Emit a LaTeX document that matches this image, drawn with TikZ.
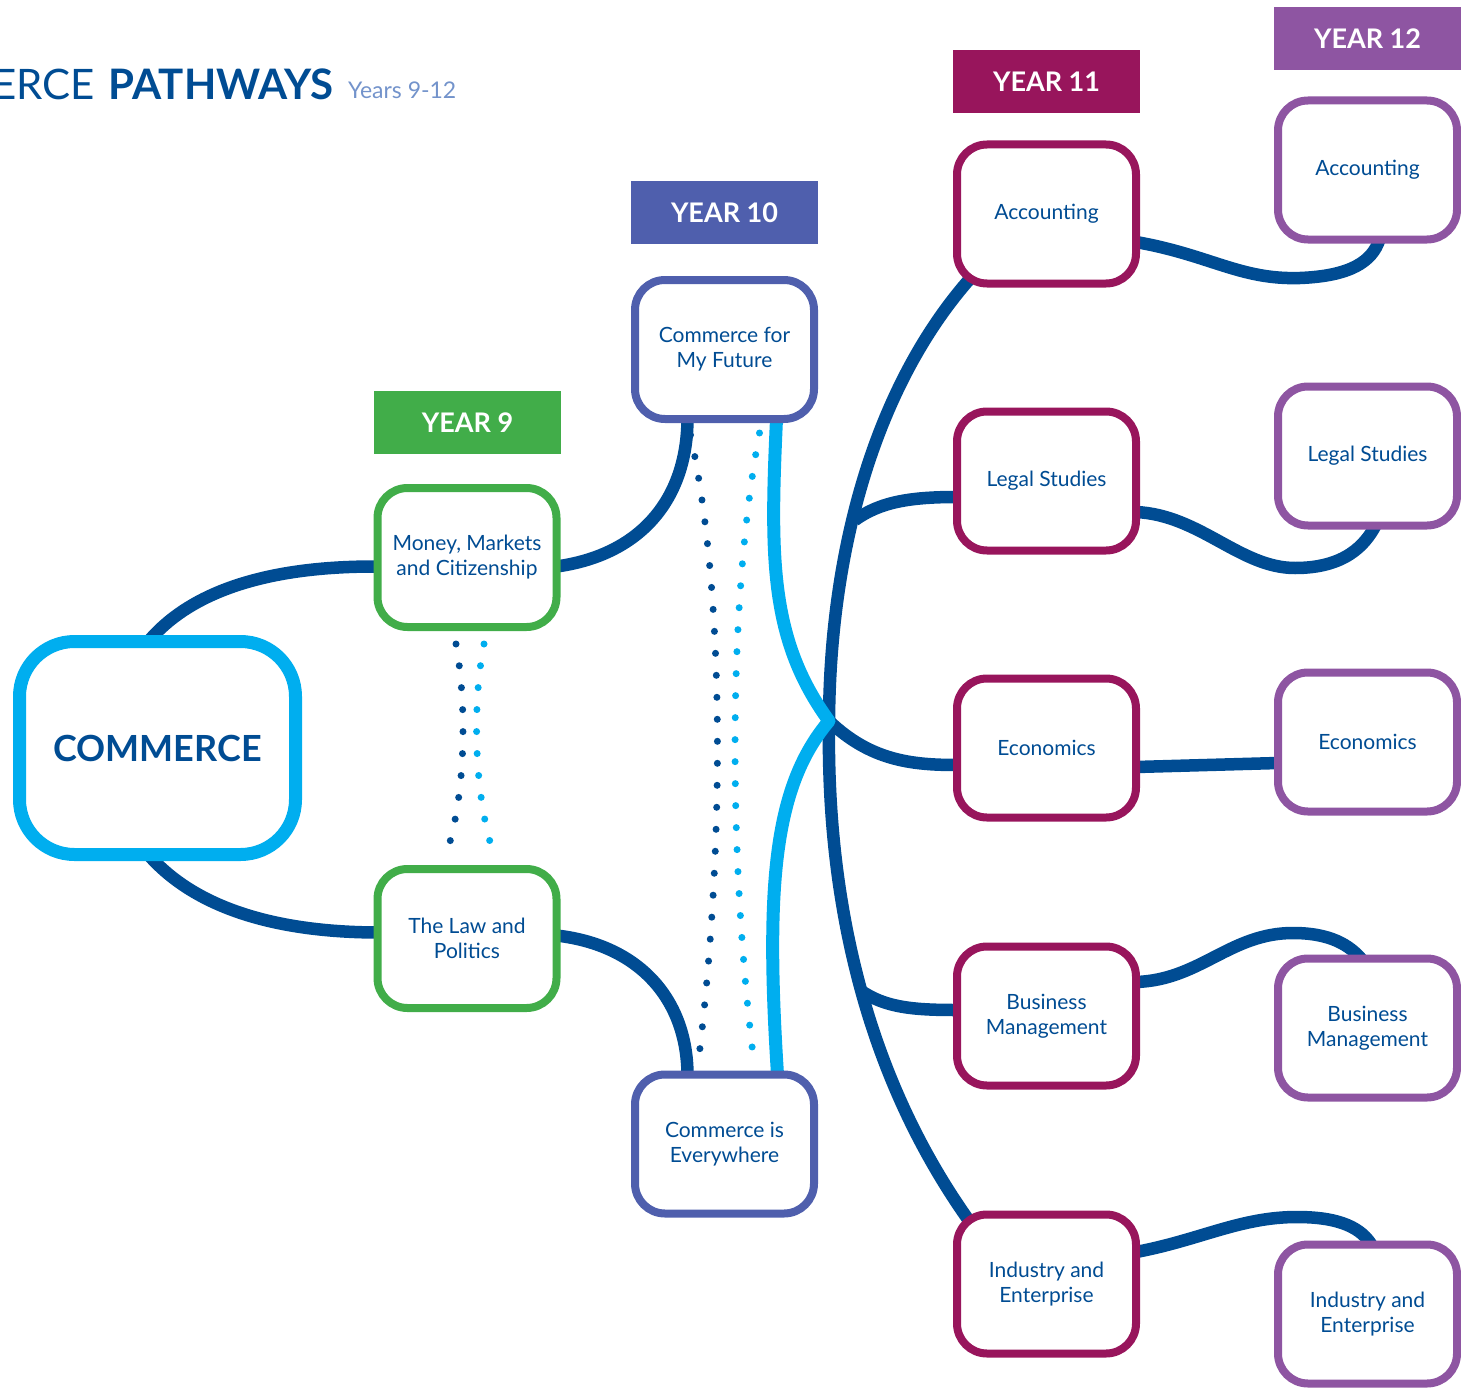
\documentclass[tikz,border=0pt]{standalone}
\usepackage{fontspec}
\setmainfont{Lato}
\usetikzlibrary{calc,backgrounds}
\definecolor{navy}{HTML}{004C93}
\definecolor{sky}{HTML}{00AEEF}
\definecolor{grn}{HTML}{41AD49}
\definecolor{slate}{HTML}{4F5FAD}
\definecolor{plum}{HTML}{98155C}
\definecolor{lilac}{HTML}{8E55A2}
\definecolor{ttl}{HTML}{7393CB}

\begin{document}
\begin{tikzpicture}[x=1pt, y=-1pt,
  coursebox/.style={draw, fill=white, line width=8pt, rounded corners=30pt, minimum width=179pt, minimum height=139pt, inner sep=0pt, align=center, text=navy, font=\fontsize{21}{25}\selectfont},
  yearlbl/.style={fill=#1, minimum width=187pt, minimum height=63pt, inner sep=0pt, text=white, font=\fontsize{27}{27}\selectfont\bfseries},
  link/.style={navy, line width=12.5pt},
  dots/.style={line width=7pt, line cap=round, dash pattern=on 0pt off 22pt}]
\useasboundingbox (0,0) rectangle (1461,1391);

\node[anchor=base east, text=navy, inner sep=0pt, font=\fontsize{42}{42}\selectfont] (title) at (334,100) {COMMERCE\hspace{3pt} \textbf{PATHWAYS}}; %title
\node[anchor=base west, text=ttl, inner sep=0pt, font=\fontsize{23}{23}\selectfont] (subtitle) at (348,99) {Years 9-12};

\node[coursebox, draw=sky, line width=13pt, rounded corners=55pt, minimum width=276pt, minimum height=213pt, font=\fontsize{36}{36}\selectfont\bfseries] (commerce) at (157.5,748) {COMMERCE};

% year 9
\node[yearlbl=grn] (yr9) at (467.5,422.5) {YEAR 9};
\node[coursebox, draw=grn] (money) at (467,557.5) {Money, Markets\\and Citizenship};
\node[coursebox, draw=grn] (law) at (467,938.5) {The Law and\\Politics};

% year 10
\node[yearlbl=slate] (yr10) at (724.5,212.5) {YEAR 10};
\node[coursebox, draw=slate] (future) at (724.5,349.5) {Commerce for\\My Future};
\node[coursebox, draw=slate] (everywhere) at (724.5,1144) {Commerce is\\Everywhere};

% year 11
\node[yearlbl=plum] (yr11) at (1046.5,81.5) {YEAR 11};
\node[coursebox, draw=plum] (acc11) at (1046.5,214) {Accounting};
\node[coursebox, draw=plum] (legal11) at (1046.5,481) {Legal Studies};
\node[coursebox, draw=plum] (econ11) at (1046.5,748) {Economics};
\node[coursebox, draw=plum] (bus11) at (1046.5,1016) {Business\\Management};
\node[coursebox, draw=plum] (ind11) at (1046.5,1284) {Industry and\\Enterprise};

% year 12
\node[yearlbl=lilac] (yr12) at (1367.5,38.5) {YEAR 12};
\node[coursebox, draw=lilac] (acc12) at (1367.5,170) {Accounting};
\node[coursebox, draw=lilac] (legal12) at (1367.5,456) {Legal Studies};
\node[coursebox, draw=lilac] (econ12) at (1367.5,742) {Economics};
\node[coursebox, draw=lilac] (bus12) at (1367.5,1028) {Business\\Management};
\node[coursebox, draw=lilac] (ind12) at (1367.5,1314) {Industry and\\Enterprise};

\coordinate (hub) at (829,721);
\coordinate (legaljoin) at (855,520);
\coordinate (bizjoin) at (860,990);

\begin{scope}[on background layer]
  \draw[link] ($(commerce.north)+(-7,4)$) .. controls (185,600) and (250,566) .. ($(money.west)+(4,9)$); %commerce-money
  \draw[link] ($(commerce.south)+(-7,-4)$) .. controls (185,895) and (250,932) .. ($(law.west)+(4,-6)$); %commerce-law
  \draw[link] ($(money.east)+(-4,9)$) .. controls (640,555) and (687,500) .. ($(future.south)+(-37,-4)$); %money-future
  \draw[link] ($(law.east)+(-4,-3)$) .. controls (640,945) and (687,1000) .. ($(everywhere.north)+(-37,4)$); %law-everywhere

  \draw[dots, navy] ($(money.south)+(-11,13)$) .. controls (467,705) and (466,795) .. ($(law.north)+(-21,-10)$);
  \draw[dots, sky] ($(money.south)+(17,13)$) .. controls (472,705) and (474,795) .. ($(law.north)+(27,-10)$);
  \draw[dots, navy] ($(future.south)+(-34,12)$) .. controls (726,600) and (724,850) .. ($(everywhere.north)+(-26,-10)$);
  \draw[dots, sky] ($(future.south)+(35,10)$) .. controls (728,600) and (728,850) .. ($(everywhere.north)+(29,-12)$);

  \draw[link] ($(acc11.south west)+(18,-10)$) .. controls (880,380) and (830,540) .. (hub) .. controls (826,920) and (875,1090) .. ($(ind11.north west)+(18,13)$); %trunk
  \draw[link] (legaljoin) .. controls (880,502) and (910,497) .. ($(legal11.west)+(4,16)$);
  \draw[link] (hub) .. controls (870,760) and (910,765) .. ($(econ11.west)+(4,17)$);
  \draw[link] (bizjoin) .. controls (885,1008) and (915,1010) .. ($(bus11.west)+(4,-6)$);
  \draw[sky, line width=13pt, line join=round] ($(future.south)+(52,-4)$) .. controls (770,560) and (770,640) .. (hub) .. controls (775,785) and (765,880) .. ($(everywhere.north)+(53,4)$);

  \draw[link] ($(acc11.east)+(-4,28)$) .. controls (1210,255) and (1240,280) .. (1300,278) .. controls (1350,276) and (1372,262) .. ($(acc12.south)+(12,-4)$);
  \draw[link] ($(legal11.east)+(-4,31)$) .. controls (1200,515) and (1240,568) .. (1295,568) .. controls (1345,568) and (1365,545) .. ($(legal12.south)+(8,-4)$);
  \draw[link] ($(econ11.east)+(-4,19)$) -- ($(econ12.west)+(4,21)$);
  \draw[link] ($(bus11.east)+(-4,-34)$) .. controls (1200,980) and (1230,933) .. (1293,933) .. controls (1330,933) and (1350,945) .. ($(bus12.north)+(-5,6)$);
  \draw[link] ($(ind11.east)+(-4,-32)$) .. controls (1200,1240) and (1240,1217) .. (1297,1217) .. controls (1340,1217) and (1362,1228) .. ($(ind12.north)+(5,6)$);
\end{scope}
\end{tikzpicture}
\end{document}
